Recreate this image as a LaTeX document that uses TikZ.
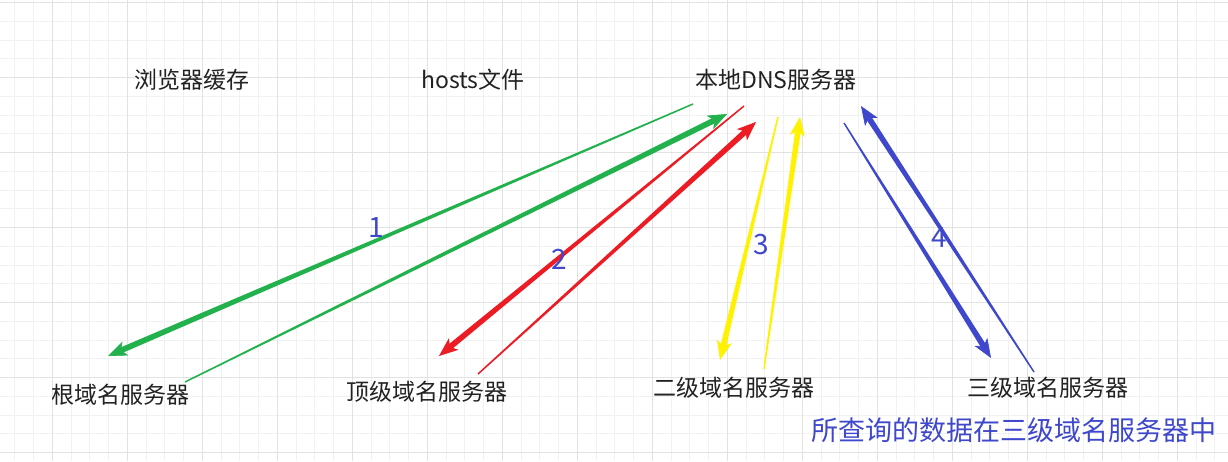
\documentclass[tikz,border=0pt]{standalone}
\usepackage{fontspec}
\newfontfamily\cjk{Noto Sans CJK SC}
\usetikzlibrary{arrows.meta,calc}
\definecolor{gridminor}{HTML}{F1F1F1}
\definecolor{gridmajor}{HTML}{E2E2E2}
\definecolor{txt}{HTML}{222222}
\definecolor{pgreen}{HTML}{22B14C}
\definecolor{pred}{HTML}{ED1C24}
\definecolor{pyellow}{HTML}{FFF200}
\definecolor{pblue}{HTML}{3F48CC}
\tikzset{
  lbl/.style={font=\cjk\fontsize{23}{26}\selectfont, text=txt, inner sep=0pt},
  numlbl/.style={font=\cjk\fontsize{28}{30}\selectfont, text=pblue, inner sep=0pt},
  notelbl/.style={font=\cjk\fontsize{27}{30}\selectfont, text=pblue, inner sep=0pt},
  headtip/.style={line width=0.6pt, -{Stealth[length=19pt,width=15pt,inset=5pt]}},
  gminor/.style={draw=gridminor, line width=1pt},
  gmajor/.style={draw=gridmajor, line width=1pt}
}
% tapered arrow: #1 colour, #2 tail coordinate, #3 tip coordinate
\newcommand\taperarrow[3]{%
  \coordinate (tmpC) at ($(#3)!12pt!(#2)$);
  \fill[#1] ($(#2)!0.7pt!90:(#3)$) -- ($(#2)!0.7pt!-90:(#3)$)
    -- ($(tmpC)!2.9pt!90:(#2)$) -- ($(tmpC)!2.9pt!-90:(#2)$) -- cycle;
  \draw[#1, headtip] (#2) -- (#3);
}
\begin{document}
\begin{tikzpicture}[x=1pt,y=-1pt]
\useasboundingbox (0,0) rectangle (1228,461);
\fill[white] (0,0) rectangle (1228,461);
% grid
\foreach \i in {0,...,65} \draw[gminor] ({14.8+18.75*\i},0) -- ({14.8+18.75*\i},461);
\foreach \i in {0,...,24} \draw[gminor] (0,{2.7+18.75*\i}) -- (1228,{2.7+18.75*\i});
\foreach \i in {0,...,15} \draw[gmajor] ({52.3+75*\i},0) -- ({52.3+75*\i},461);
\foreach \i in {0,...,6} \draw[gmajor] (0,{2.7+75*\i}) -- (1228,{2.7+75*\i});
% nodes
\node[lbl] (browser) at (192,80) {浏览器缓存};
\node[lbl] (hosts) at (473,80) {hosts文件};
\node[lbl] (local) at (776,80) {本地DNS服务器};
\node[lbl] (root) at (120,395) {根域名服务器};
\node[lbl] (tld) at (427,392) {顶级域名服务器};
\node[lbl] (sld) at (734,388) {二级域名服务器};
\node[lbl] (third) at (1048,388) {三级域名服务器};
\node[notelbl] (note) at (1014,430) {所查询的数据在三级域名服务器中};
% connector end points (q = query, a = answer; s = start, e = tip)
\coordinate (gqs) at (693,104); \coordinate (gqe) at (108,356);
\coordinate (gas) at (185,382); \coordinate (gae) at (727,114);
\coordinate (rqs) at (744,106); \coordinate (rqe) at (439,356);
\coordinate (ras) at (478,374); \coordinate (rae) at (756,122);
\coordinate (yqs) at (778,117); \coordinate (yqe) at (720,360);
\coordinate (yas) at (764,369); \coordinate (yae) at (800,117);
\coordinate (bqs) at (844,123); \coordinate (bqe) at (991,358);
\coordinate (bas) at (1034,372); \coordinate (bae) at (861,106);
% connectors
\taperarrow{pgreen}{gqs}{gqe}
\taperarrow{pgreen}{gas}{gae}
\taperarrow{pred}{rqs}{rqe}
\taperarrow{pred}{ras}{rae}
\taperarrow{pyellow}{yqs}{yqe}
\taperarrow{pyellow}{yas}{yae}
\taperarrow{pblue}{bqs}{bqe}
\taperarrow{pblue}{bas}{bae}
% step numbers
\node[numlbl] (n1) at (376,228) {1};
\node[numlbl] (n2) at (559,259) {2};
\node[numlbl] (n3) at (761,245) {3};
\node[numlbl] (n4) at (939,238) {4};
\end{tikzpicture}
\end{document}
